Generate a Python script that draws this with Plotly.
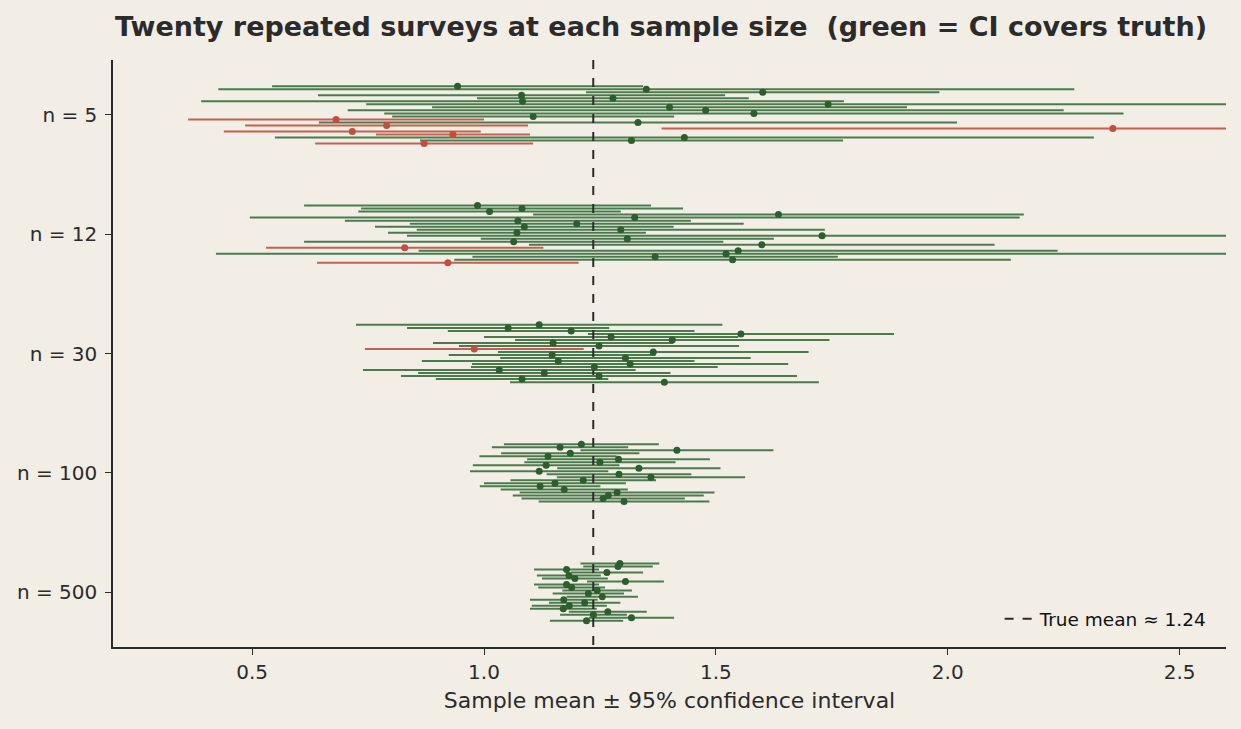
import plotly.graph_objects as go

sample_sizes = ["n = 5", "n = 12", "n = 30", "n = 100", "n = 500"]
true_mean = 1.2356

means_n5 = [0.943, 1.350, 1.601, 1.081, 1.278, 1.083, 1.742, 1.400, 1.478, 1.582,
            1.106, 0.681, 1.332, 0.790, 2.356, 0.716, 0.933, 1.432, 1.318, 0.871]
half_n5 = [0.400, 0.923, 0.381, 0.439, 0.293, 0.693, 0.996, 0.512, 0.772, 0.797,
           0.304, 0.319, 0.688, 0.305, 0.973, 0.277, 0.166, 0.883, 0.456, 0.235]

means_n12 = [0.986, 1.082, 1.012, 1.635, 1.325, 1.073, 1.200, 1.087, 1.295, 1.071,
             1.729, 1.309, 1.064, 1.599, 0.829, 1.548, 1.522, 1.369, 1.536, 0.922]
half_n12 = [0.374, 0.347, 0.283, 0.529, 0.830, 0.373, 0.360, 0.322, 0.440, 0.278,
            0.895, 0.316, 0.452, 0.502, 0.299, 0.689, 1.100, 0.394, 0.600, 0.282]

means_n30 = [1.119, 1.052, 1.188, 1.554, 1.274, 1.406, 1.149, 1.248, 0.979, 1.365,
             1.147, 1.305, 1.160, 1.315, 1.238, 1.033, 1.130, 1.248, 1.082, 1.389]
half_n30 = [0.395, 0.218, 0.266, 0.330, 0.274, 0.339, 0.259, 0.302, 0.236, 0.335,
            0.223, 0.270, 0.294, 0.341, 0.266, 0.294, 0.272, 0.427, 0.186, 0.333]

means_n100 = [1.210, 1.164, 1.416, 1.186, 1.138, 1.290, 1.250, 1.134, 1.334, 1.119,
              1.291, 1.360, 1.214, 1.153, 1.121, 1.173, 1.287, 1.268, 1.257, 1.302]
half_n100 = [0.167, 0.147, 0.208, 0.149, 0.148, 0.197, 0.163, 0.158, 0.176, 0.149,
             0.156, 0.203, 0.157, 0.153, 0.130, 0.137, 0.210, 0.206, 0.176, 0.184]

means_n500 = [1.293, 1.289, 1.178, 1.265, 1.183, 1.196, 1.305, 1.178, 1.189, 1.244,
              1.225, 1.255, 1.172, 1.217, 1.184, 1.171, 1.267, 1.236, 1.318, 1.221]
half_n500 = [0.085, 0.075, 0.070, 0.078, 0.069, 0.071, 0.083, 0.070, 0.072, 0.075,
             0.077, 0.077, 0.073, 0.077, 0.081, 0.072, 0.084, 0.072, 0.092, 0.079]

all_means = [means_n5, means_n12, means_n30, means_n100, means_n500]
all_halves = [half_n5, half_n12, half_n30, half_n100, half_n500]

BG = "#f2eee6"
INK = "#2b2b2b"
GREEN_LINE = "#4b7a4d"
GREEN_DOT = "#2c5e2e"
RED_LINE = "#c4604f"
RED_DOT = "#bf4f3f"

segs = {"g": ([], []), "r": ([], [])}
dots = {"g": ([], []), "r": ([], [])}
for g, (ms, hs) in enumerate(zip(all_means, all_halves)):
    k = len(ms)
    for i, (m, h) in enumerate(zip(ms, hs)):
        yy = g + (-0.24 + 0.48 * i / (k - 1))
        lo, hi = m - h, m + h
        key = "g" if lo <= true_mean <= hi else "r"
        segs[key][0].extend([lo, hi, None])
        segs[key][1].extend([yy, yy, None])
        dots[key][0].append(m)
        dots[key][1].append(yy)

fig = go.Figure()
for key, col in (("g", GREEN_LINE), ("r", RED_LINE)):
    fig.add_trace(go.Scatter(x=segs[key][0], y=segs[key][1], mode="lines",
                             line=dict(color=col, width=2), showlegend=False,
                             hoverinfo="skip"))
fig.add_trace(go.Scatter(x=[true_mean, true_mean], y=[-0.46, 4.46], mode="lines",
                         line=dict(color=INK, width=2, dash="dash"),
                         name="True mean ≈ 1.24", showlegend=True))
for key, col in (("g", GREEN_DOT), ("r", RED_DOT)):
    fig.add_trace(go.Scatter(x=dots[key][0], y=dots[key][1], mode="markers",
                             marker=dict(color=col, size=7, line=dict(width=0)),
                             showlegend=False))

fig.update_layout(
    width=1241, height=729,
    paper_bgcolor=BG, plot_bgcolor=BG,
    margin=dict(l=113, r=15, t=60, b=82),
    font=dict(family="DejaVu Sans", color=INK, size=20),
    title=dict(text="<b>Twenty repeated surveys at each sample size  (green = CI covers truth)</b>",
               x=0.4924, xref="paper", xanchor="center", y=0.963, yanchor="middle",
               font=dict(size=27, color=INK)),
    legend=dict(x=0.988, y=0.015, xanchor="right", yanchor="bottom",
                bgcolor="rgba(0,0,0,0)", font=dict(size=18.5, color="#111111")),
    showlegend=True,
)
fig.update_xaxes(range=[0.2, 2.6], tickvals=[0.5, 1.0, 1.5, 2.0, 2.5],
                 ticktext=["0.5", "1.0", "1.5", "2.0", "2.5"],
                 showgrid=False, zeroline=False, showline=True, linecolor=INK, linewidth=1.5,
                 ticks="outside", ticklen=6, tickcolor=INK, tickwidth=1.2,
                 ticklabelstandoff=0,
                 title=dict(text="Sample mean ± 95% confidence interval", font=dict(size=22), standoff=10))
fig.update_yaxes(range=[4.46, -0.46], tickvals=[0, 1, 2, 3, 4], ticktext=sample_sizes,
                 showgrid=False, zeroline=False, showline=True, linecolor=INK, linewidth=1.5,
                 ticks="outside", ticklen=6, tickcolor=INK, tickwidth=1.2,
                 ticklabelstandoff=4)

fig.write_html("out.html")
